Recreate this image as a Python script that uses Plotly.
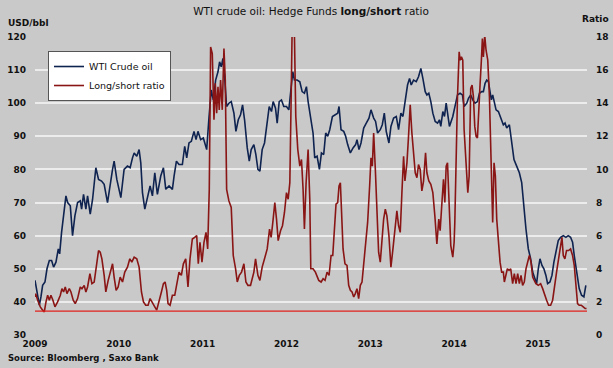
import plotly.graph_objects as go

# ---- WTI crude oil (USD/bbl), x in decimal years ----
wti_dates = [2009.000, 2009.024, 2009.052, 2009.071, 2009.091, 2009.119, 2009.143, 2009.171, 2009.198, 2009.222,
             2009.250, 2009.278, 2009.294, 2009.317, 2009.341, 2009.369, 2009.389, 2009.421, 2009.448, 2009.476,
             2009.508, 2009.540, 2009.556, 2009.579, 2009.607, 2009.627, 2009.659, 2009.687, 2009.726, 2009.758,
             2009.794, 2009.825, 2009.865, 2009.897, 2009.925, 2009.944, 2009.976, 2010.024, 2010.063, 2010.103,
             2010.135, 2010.163, 2010.183, 2010.214, 2010.242, 2010.262, 2010.282, 2010.310, 2010.341, 2010.373,
             2010.401, 2010.429, 2010.460, 2010.500, 2010.532, 2010.560, 2010.599, 2010.639, 2010.659, 2010.687,
             2010.718, 2010.758, 2010.786, 2010.810, 2010.837, 2010.865, 2010.897, 2010.921, 2010.944, 2010.976,
             2011.008, 2011.048, 2011.075, 2011.103, 2011.127, 2011.155, 2011.183, 2011.202, 2011.222, 2011.242,
             2011.262, 2011.286, 2011.313, 2011.341, 2011.373, 2011.397, 2011.425, 2011.452, 2011.476, 2011.500,
             2011.532, 2011.556, 2011.579, 2011.611, 2011.635, 2011.659, 2011.683, 2011.710, 2011.738, 2011.770,
             2011.794, 2011.821, 2011.841, 2011.869, 2011.889, 2011.913, 2011.940, 2011.968, 2012.000, 2012.028,
             2012.056, 2012.075, 2012.095, 2012.127, 2012.159, 2012.187, 2012.214, 2012.238, 2012.258, 2012.286,
             2012.317, 2012.337, 2012.365, 2012.393, 2012.417, 2012.444, 2012.468, 2012.492, 2012.516, 2012.548,
             2012.583, 2012.611, 2012.627, 2012.651, 2012.683, 2012.706, 2012.730, 2012.762, 2012.794, 2012.825,
             2012.841, 2012.865, 2012.889, 2012.921, 2012.952, 2012.984, 2013.008, 2013.040, 2013.063, 2013.087,
             2013.119, 2013.143, 2013.167, 2013.190, 2013.222, 2013.246, 2013.278, 2013.310, 2013.337, 2013.365,
             2013.389, 2013.417, 2013.444, 2013.468, 2013.488, 2013.516, 2013.548, 2013.575, 2013.603, 2013.627,
             2013.655, 2013.675, 2013.698, 2013.722, 2013.746, 2013.774, 2013.802, 2013.825, 2013.841, 2013.865,
             2013.885, 2013.905, 2013.925, 2013.944, 2013.984, 2014.012, 2014.040, 2014.071, 2014.099, 2014.119,
             2014.151, 2014.171, 2014.198, 2014.222, 2014.250, 2014.278, 2014.302, 2014.329, 2014.349, 2014.369,
             2014.389, 2014.409, 2014.429, 2014.444, 2014.460, 2014.476, 2014.500, 2014.528, 2014.548, 2014.567,
             2014.587, 2014.607, 2014.627, 2014.659, 2014.687, 2014.714, 2014.746, 2014.778, 2014.806, 2014.833,
             2014.857, 2014.885, 2014.913, 2014.937, 2014.964, 2014.984, 2015.004, 2015.024, 2015.048, 2015.071,
             2015.095, 2015.115, 2015.143, 2015.167, 2015.190, 2015.214, 2015.242, 2015.270, 2015.302, 2015.333,
             2015.361, 2015.389, 2015.413, 2015.433, 2015.460, 2015.492, 2015.520, 2015.548, 2015.571]
wti_values = [46.5, 43, 39, 41.5, 45, 46, 50, 52.5, 52.5, 50.5,
              52, 56, 54.5, 61, 67, 72, 70, 69, 60, 66,
              70, 70.5, 68, 72.5, 68, 72, 66.5, 71, 80.5, 77,
              76.5, 75.5, 70, 76, 80, 82.5, 77, 71.5, 80, 81,
              80.5, 83.5, 85, 84, 86, 82, 73, 68, 71.5, 75,
              72, 79, 72.5, 78, 80.5, 74, 75, 74, 78, 82.5,
              81.5, 81.5, 87, 83.5, 88, 88.5, 91.5, 89, 91.5, 89,
              89.5, 86, 95.5, 104, 101, 107, 109.5, 112.5, 111, 113.5,
              108, 99, 100, 100.5, 97, 91.5, 95, 96.5, 99.5, 95,
              86.5, 82.5, 86, 87.5, 84.5, 80, 79.5, 86, 88, 93.5,
              99, 97.5, 100.5, 98.5, 94, 100.5, 101, 99, 99, 98,
              104.5, 109.5, 107, 107, 106.5, 103.5, 103, 105, 100.5, 96,
              91, 83.5, 84, 80, 85, 84.5, 91, 90, 92, 96,
              96.5, 97, 99, 92, 91.5, 90, 87.5, 85, 86.5, 87.5,
              89, 86, 88, 92.5, 94, 95.5, 98, 95.5, 94.5, 91,
              92, 93.5, 97, 91.5, 88, 93, 95.5, 96, 92, 97,
              96, 101, 105.5, 107.5, 105.5, 107, 106.5, 108, 110.5, 107.5,
              103.5, 102.5, 103, 100.5, 97, 94.5, 94, 95, 93, 97.5,
              96, 100, 96, 93, 96, 99, 102.5, 103, 102.5, 99,
              100, 101.5, 102.5, 101, 100, 100.5, 103, 103.5, 103.5, 106,
              107, 106.5, 103, 101, 102.5, 101, 98, 97.5, 96, 95,
              93.5, 94, 92.5, 93.5, 88.5, 83, 81, 79, 76, 68,
              62, 56, 53, 49, 46.5, 45.5, 50, 53, 51, 50,
              48, 45.5, 46, 48, 52, 55.5, 58.5, 59.5, 60, 59.5,
              60, 59.5, 58, 54, 49, 44, 42, 41.5, 45]

# ---- Hedge funds long/short ratio ----
ratio_dates = [2009.000, 2009.008, 2009.032, 2009.063, 2009.091, 2009.111, 2009.131, 2009.151, 2009.171, 2009.190,
               2009.214, 2009.238, 2009.270, 2009.302, 2009.321, 2009.341, 2009.361, 2009.381, 2009.409, 2009.429,
               2009.456, 2009.480, 2009.508, 2009.540, 2009.560, 2009.587, 2009.607, 2009.627, 2009.655, 2009.679,
               2009.706, 2009.730, 2009.758, 2009.778, 2009.798, 2009.825, 2009.845, 2009.873, 2009.905, 2009.925,
               2009.944, 2009.968, 2009.992, 2010.016, 2010.044, 2010.071, 2010.103, 2010.131, 2010.155, 2010.183,
               2010.214, 2010.242, 2010.270, 2010.294, 2010.321, 2010.349, 2010.373, 2010.401, 2010.429, 2010.452,
               2010.480, 2010.508, 2010.532, 2010.552, 2010.571, 2010.587, 2010.611, 2010.639, 2010.667, 2010.690,
               2010.718, 2010.746, 2010.770, 2010.798, 2010.825, 2010.849, 2010.877, 2010.905, 2010.929, 2010.948,
               2010.968, 2010.992, 2011.016, 2011.040, 2011.060, 2011.079, 2011.095, 2011.115, 2011.135, 2011.151,
               2011.167, 2011.183, 2011.198, 2011.214, 2011.234, 2011.254, 2011.270, 2011.286, 2011.313, 2011.341,
               2011.365, 2011.393, 2011.413, 2011.437, 2011.464, 2011.492, 2011.516, 2011.540, 2011.571, 2011.591,
               2011.611, 2011.631, 2011.659, 2011.683, 2011.710, 2011.738, 2011.770, 2011.798, 2011.817, 2011.837,
               2011.861, 2011.881, 2011.901, 2011.929, 2011.952, 2011.976, 2012.000, 2012.020, 2012.040, 2012.056,
               2012.067, 2012.079, 2012.095, 2012.111, 2012.135, 2012.159, 2012.179, 2012.198, 2012.214, 2012.234,
               2012.258, 2012.278, 2012.290, 2012.306, 2012.317, 2012.345, 2012.373, 2012.385, 2012.413, 2012.437,
               2012.460, 2012.484, 2012.508, 2012.532, 2012.552, 2012.571, 2012.591, 2012.611, 2012.627, 2012.643,
               2012.659, 2012.675, 2012.698, 2012.722, 2012.742, 2012.762, 2012.782, 2012.802, 2012.821, 2012.841,
               2012.861, 2012.881, 2012.901, 2012.921, 2012.944, 2012.968, 2012.992, 2013.008, 2013.024, 2013.040,
               2013.060, 2013.079, 2013.099, 2013.119, 2013.139, 2013.159, 2013.179, 2013.198, 2013.222, 2013.246,
               2013.270, 2013.294, 2013.317, 2013.337, 2013.357, 2013.377, 2013.397, 2013.413, 2013.437, 2013.456,
               2013.476, 2013.496, 2013.516, 2013.536, 2013.556, 2013.575, 2013.595, 2013.615, 2013.635, 2013.659,
               2013.675, 2013.698, 2013.722, 2013.746, 2013.770, 2013.794, 2013.817, 2013.833, 2013.857, 2013.873,
               2013.889, 2013.905, 2013.921, 2013.940, 2013.960, 2013.984, 2014.000, 2014.008, 2014.024, 2014.040,
               2014.060, 2014.071, 2014.087, 2014.103, 2014.119, 2014.143, 2014.163, 2014.179, 2014.198, 2014.214,
               2014.230, 2014.246, 2014.262, 2014.278, 2014.294, 2014.310, 2014.325, 2014.337, 2014.349, 2014.365,
               2014.381, 2014.401, 2014.421, 2014.437, 2014.460, 2014.476, 2014.492, 2014.508, 2014.528, 2014.548,
               2014.567, 2014.587, 2014.599, 2014.619, 2014.635, 2014.655, 2014.675, 2014.698, 2014.718, 2014.738,
               2014.758, 2014.778, 2014.798, 2014.817, 2014.837, 2014.857, 2014.881, 2014.897, 2014.917, 2014.937,
               2014.956, 2014.976, 2015.004, 2015.032, 2015.056, 2015.079, 2015.103, 2015.127, 2015.151, 2015.175,
               2015.198, 2015.222, 2015.246, 2015.270, 2015.286, 2015.302, 2015.321, 2015.341, 2015.365, 2015.389,
               2015.413, 2015.433, 2015.452, 2015.472, 2015.492, 2015.516, 2015.540, 2015.563, 2015.579]
ratio_values = [2.3, 2.5, 2.1, 1.7, 1.5, 1.4, 2.0, 2.4, 2.1, 2.4,
                2.1, 1.7, 2.0, 2.4, 2.8, 2.6, 2.9, 2.5, 2.8, 2.6,
                2.1, 1.9, 2.2, 2.9, 2.8, 3.0, 2.6, 2.9, 3.7, 3.1,
                3.2, 4.2, 5.1, 5.0, 4.6, 3.6, 2.6, 3.3, 4.0, 4.3,
                3.5, 2.7, 2.9, 3.5, 3.2, 3.8, 4.1, 4.6, 4.4, 4.7,
                4.6, 4.1, 2.6, 2.0, 1.8, 1.8, 2.2, 1.9, 1.7, 1.5,
                2.0, 2.6, 3.1, 3.2, 2.7, 1.9, 1.8, 2.4, 2.4, 3.1,
                3.8, 3.6, 4.3, 4.6, 2.9, 4.6, 5.8, 5.9, 6.0, 4.3,
                5.6, 4.4, 5.6, 6.2, 5.2, 8.8, 17.4, 17.0, 13.0, 15.2,
                13.4, 15.0, 13.6, 15.4, 13.6, 17.3, 15.4, 8.8, 8.1, 7.7,
                4.8, 4.0, 3.2, 3.6, 3.8, 4.3, 3.2, 3.0, 3.0, 3.4,
                3.8, 4.6, 3.6, 3.3, 4.1, 4.6, 5.2, 6.4, 5.9, 6.8,
                8.0, 7.0, 5.7, 6.3, 6.6, 7.4, 8.6, 8.2, 9.2, 14.4,
                18.3, 18.3, 18.1, 13.2, 11.2, 10.2, 10.6, 8.8, 6.4, 9.2,
                11.2, 8.2, 4.0, 4.0, 4.0, 3.8, 3.4, 3.3, 3.2, 3.4,
                3.3, 3.8, 3.6, 4.8, 4.8, 6.6, 7.9, 8.0, 9.0, 9.2,
                7.2, 5.2, 4.3, 4.2, 3.0, 2.7, 2.6, 2.3, 2.5, 2.8,
                2.2, 3.0, 3.2, 4.2, 5.4, 6.8, 9.0, 10.7, 10.2, 12.2,
                10.0, 7.2, 5.0, 4.4, 5.6, 7.0, 7.6, 7.2, 6.0, 4.1,
                5.2, 6.3, 7.5, 6.6, 6.2, 8.6, 10.8, 9.3, 10.4, 12.0,
                13.9, 12.2, 11.0, 9.8, 9.5, 10.3, 10.0, 8.7, 9.3, 11.0,
                9.8, 9.3, 9.1, 8.6, 7.2, 5.5, 7.0, 6.3, 8.2, 9.4,
                8.0, 10.2, 10.4, 7.8, 5.4, 4.7, 5.6, 6.8, 10.8, 14.4,
                17.1, 16.6, 16.8, 16.6, 12.4, 10.4, 8.6, 9.6, 14.9, 15.1,
                14.4, 12.6, 12.0, 11.9, 13.2, 15.2, 16.6, 17.9, 16.8, 18.1,
                17.2, 16.6, 14.4, 11.4, 6.8, 10.4, 9.6, 7.0, 5.6, 4.4,
                3.8, 3.8, 3.2, 3.6, 4.0, 3.9, 4.0, 3.1, 3.7, 3.1,
                3.7, 3.1, 3.6, 3.0, 3.2, 4.0, 4.6, 4.8, 4.4, 3.5,
                3.3, 3.1, 3.0, 3.1, 2.8, 2.4, 2.1, 1.8, 1.8, 2.1,
                2.8, 3.8, 4.6, 5.6, 5.9, 4.8, 4.6, 5.1, 5.1, 5.2,
                4.8, 4.2, 2.8, 1.9, 1.8, 1.8, 1.7, 1.6, 1.6]

ratio_floor = 1.44  # horizontal reference level on the ratio axis

year_ticks = [2009, 2010, 2011, 2012, 2013, 2014, 2015]
year_labels = ["2009", "2010", "2011", "2012", "2013", "2014", "2015"]
usd_ticks = [30, 40, 50, 60, 70, 80, 90, 100, 110, 120]
ratio_ticks = [0, 2, 4, 6, 8, 10, 12, 14, 16, 18]

BG = "#c9c9c9"
GRID = "#ececec"
NAVY = "#0f2350"
DARKRED = "#8a1515"
FONT = "DejaVu Sans"
TXT = "#111111"

fig = go.Figure()
fig.add_trace(go.Scatter(x=wti_dates, y=wti_values, mode="lines", name="WTI Crude oil",
                         line=dict(color=NAVY, width=1.6), yaxis="y"))
fig.add_trace(go.Scatter(x=ratio_dates, y=ratio_values, mode="lines", name="Long/short ratio",
                         line=dict(color=DARKRED, width=1.6), yaxis="y2"))
fig.add_hline(y=ratio_floor, yref="y2", line=dict(color="#e0201c", width=1.3), layer="above")

fig.update_layout(
    width=613, height=368,
    margin=dict(l=35, r=26, t=37, b=33, autoexpand=False),
    paper_bgcolor=BG, plot_bgcolor=BG,
    font=dict(family=FONT, size=9, color=TXT),
    showlegend=True,
    legend=dict(x=0.0236, y=0.953, xanchor="left", yanchor="top",
                bgcolor="white", bordercolor="#555555", borderwidth=1,
                font=dict(family=FONT, size=9.5, color=TXT), itemwidth=30,
                tracegroupgap=0),
    title=dict(text="WTI crude oil: Hedge Funds <b>long/short</b> ratio",
               x=0.5, xref="paper", xanchor="center", y=0.97, yanchor="middle",
               font=dict(family=FONT, size=10.5, color=TXT)),
    xaxis=dict(range=[2009, 2015.585], tickvals=year_ticks, ticktext=year_labels,
               showgrid=False, zeroline=False, showline=False, ticks="", automargin=False,
               tickfont=dict(family=FONT, size=9, color=TXT, weight="bold"),
               ticklabelstandoff=2),
    yaxis=dict(range=[30, 120], tickvals=usd_ticks, showgrid=True, gridcolor=GRID, gridwidth=1.5,
               zeroline=False, showline=False, ticks="", automargin=False,
               tickfont=dict(family=FONT, size=9, color=TXT, weight="bold"),
               ticklabelstandoff=8),
    yaxis2=dict(range=[0, 18], tickvals=ratio_ticks, overlaying="y", side="right",
                showgrid=False, zeroline=False, showline=False, ticks="", automargin=False,
                tickfont=dict(family=FONT, size=9, color=TXT, weight="bold"),
                ticklabelstandoff=8),
    annotations=[
        dict(text="USD/bbl", xref="paper", yref="paper", x=-0.0525, y=1.047,
             xanchor="left", yanchor="middle", showarrow=False,
             font=dict(family=FONT, size=9, color=TXT, weight="bold")),
        dict(text="Ratio", xref="paper", yref="paper", x=1.044, y=1.06,
             xanchor="right", yanchor="middle", showarrow=False,
             font=dict(family=FONT, size=9, color=TXT, weight="bold")),
        dict(text="Source: Bloomberg , Saxo Bank", xref="paper", yref="paper", x=-0.0525, y=-0.077,
             xanchor="left", yanchor="middle", showarrow=False,
             font=dict(family=FONT, size=8.5, color=TXT, weight="bold")),
    ],
)

fig.write_html("out.html", config={"displayModeBar": False},
               post_script="document.body.style.margin='0';document.body.style.overflow='hidden';")
